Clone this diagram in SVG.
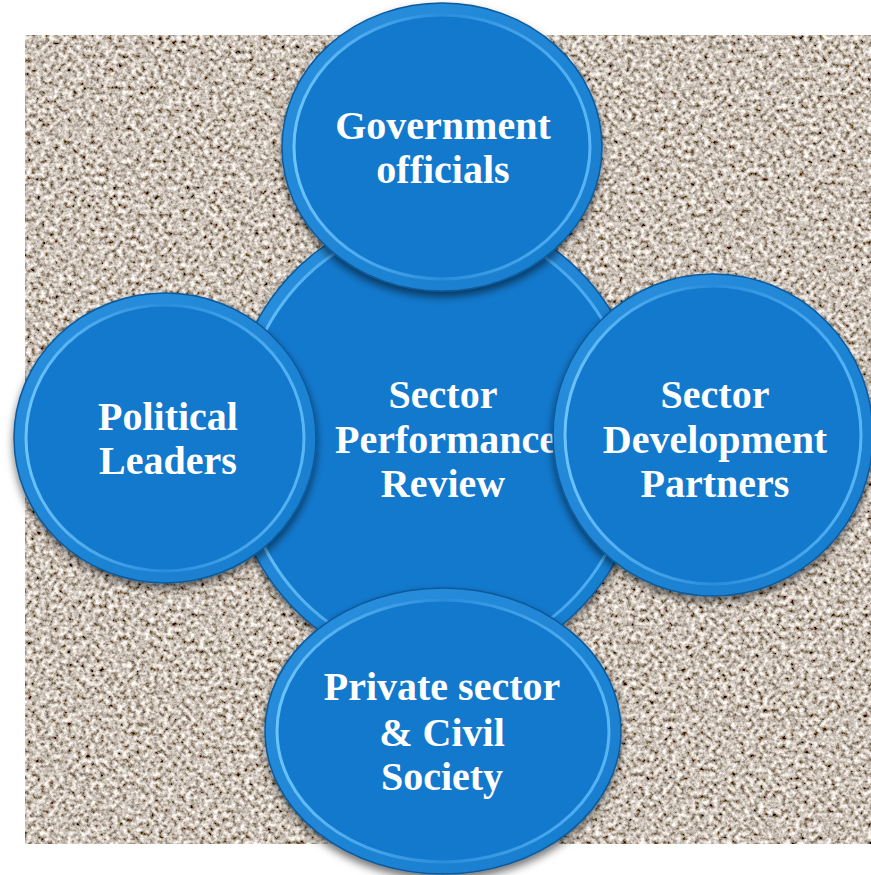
<svg xmlns="http://www.w3.org/2000/svg" width="871" height="875" viewBox="0 0 871 875">
<defs>
<filter id="grain" x="0" y="0" width="100%" height="100%" filterUnits="objectBoundingBox">
<feTurbulence type="fractalNoise" baseFrequency="0.22" numOctaves="3" seed="7" result="n"/>
<feColorMatrix in="n" type="matrix" values="1.7 0 0 0 -0.26  1.7 0 0 0 -0.32  1.7 0 0 0 -0.38  0 0 0 0 1"/>
</filter>
<filter id="shadow" x="-20%" y="-20%" width="140%" height="140%">
<feDropShadow dx="0" dy="5" stdDeviation="4" flood-color="#000" flood-opacity="0.55"/>
</filter>
<linearGradient id="rim" x1="0" y1="0" x2="1" y2="1">
<stop offset="0" stop-color="#2a90de"/>
<stop offset="1" stop-color="#167bcc"/>
</linearGradient>
<linearGradient id="hl" x1="0" y1="0" x2="1" y2="0">
<stop offset="0" stop-color="#6cc4fb"/>
<stop offset="0.5" stop-color="#2a8cdc"/>
<stop offset="1" stop-color="#58b6f6"/>
</linearGradient>
</defs>
<style>
.outer{fill:url(#rim);stroke:#0b5a9c;stroke-width:1.5;filter:url(#shadow)}
.inner{fill:#1379cd;stroke:url(#hl);stroke-width:3}
.lbl{font-family:"Liberation Serif","Times New Roman",serif;font-weight:bold;font-size:40px;fill:#ffffff;text-anchor:middle}
</style>
<rect x="0" y="0" width="871" height="875" fill="#ffffff"/>
<rect id="background" x="25" y="35" width="846" height="809" fill="#a89888" filter="url(#grain)"/>
<g id="connectors"/>
<g id="center">
<ellipse class="outer" cx="437" cy="440" rx="210" ry="230"/>
<ellipse class="inner" cx="437" cy="440" rx="198" ry="218"/>
<text class="lbl" x="443" y="408">Sector</text>
<text class="lbl" x="446" y="453">Performance</text>
<text class="lbl" x="443" y="497">Review</text>
</g>
<g id="top">
<ellipse class="outer" cx="442" cy="147" rx="160" ry="144"/>
<ellipse class="inner" cx="442" cy="147" rx="148" ry="132"/>
<text class="lbl" x="443" y="139">Government</text>
<text class="lbl" x="443" y="183">officials</text>
</g>
<g id="left">
<ellipse class="outer" cx="165" cy="438" rx="151" ry="145"/>
<ellipse class="inner" cx="165" cy="438" rx="139" ry="133"/>
<text class="lbl" x="168" y="430">Political</text>
<text class="lbl" x="168" y="474">Leaders</text>
</g>
<g id="right">
<ellipse class="outer" cx="713" cy="435" rx="160" ry="161"/>
<ellipse class="inner" cx="713" cy="435" rx="148" ry="149"/>
<text class="lbl" x="715" y="408">Sector</text>
<text class="lbl" x="715" y="453">Development</text>
<text class="lbl" x="715" y="497">Partners</text>
</g>
<g id="bottom">
<ellipse class="outer" cx="443" cy="731" rx="178" ry="143"/>
<ellipse class="inner" cx="443" cy="731" rx="166" ry="131"/>
<text class="lbl" x="442" y="700">Private sector</text>
<text class="lbl" x="442" y="746">&amp; Civil</text>
<text class="lbl" x="442" y="790">Society</text>
</g>
</svg>
